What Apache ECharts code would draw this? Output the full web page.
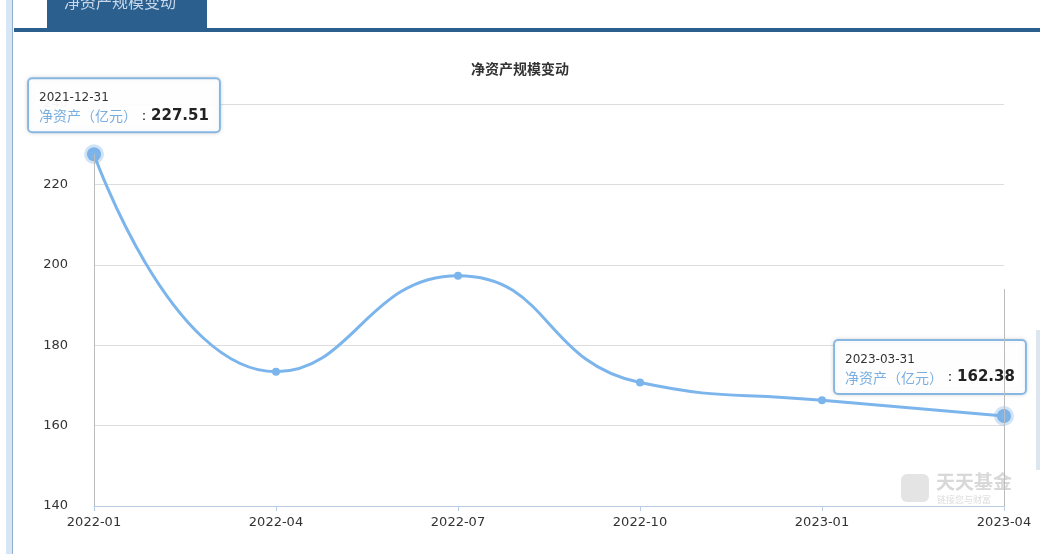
<!DOCTYPE html>
<html><head><meta charset="utf-8">
<script src="https://cdn.jsdelivr.net/npm/echarts@6/dist/echarts.min.js"></script>
<style>html,body{margin:0;padding:0;background:#fff}#c{width:1040px;height:554px}</style>
</head><body><div id="c"></div>
<script>
const categories = ['2022-01','2022-04','2022-07','2022-10','2023-01','2023-04'];
const dates = ['2021-12-31','2022-03-31','2022-06-30','2022-09-30','2022-12-31','2023-03-31'];
const values = [227.51, 173.4, 197.3, 170.7, 166.3, 162.38];
const yTicks = [140, 160, 180, 200, 220, 240];

const ch = echarts.init(document.getElementById('c'));
function tip(i, ox){
  return {show:true, position:'top', offset:[ox,-8],
    formatter: '{d|'+dates[i]+'}\n{n|净资产（亿元）}{c|：}{v|'+values[i].toFixed(2)+'}',
    backgroundColor:'rgba(255,255,255,0.95)', borderColor:'#8ec0ec', borderWidth:2, borderRadius:3,
    padding:[9,10,8,10],
    shadowColor:'rgba(0,0,0,0.15)', shadowBlur:4,
    rich:{d:{fontSize:12,color:'#333',lineHeight:20,fontFamily:'DejaVu Sans',align:'left'},
      n:{fontSize:14,color:'#7aaee0',fontFamily:'Noto Sans CJK SC',align:'left'},
      c:{fontSize:14,color:'#333'},
      v:{fontSize:15,fontWeight:'bold',color:'#222',fontFamily:'DejaVu Sans'}}};
}
const data = values.map((v,i)=>{
  const o={value:v};
  if(i===0){o.label=tip(i,30);o.symbolSize=14;o.itemStyle={borderColor:'rgba(122,174,230,0.35)',borderWidth:6};}
  if(i===5){o.label=tip(i,-74);o.symbolSize=14;o.itemStyle={borderColor:'rgba(122,174,230,0.35)',borderWidth:6};}
  return o;
});
ch.setOption({
  animation:false,
  title:{text:'净资产规模变动',left:'center',top:57,textStyle:{fontSize:14,fontWeight:'bold',color:'#333',fontFamily:'Noto Sans CJK SC'}},
  grid:{left:94,right:36,top:104,bottom:48},
  xAxis:{type:'category',data:categories,boundaryGap:false,
    axisLine:{lineStyle:{color:'#b8cce4'}},axisTick:{show:true,lineStyle:{color:'#b8cce4'}},
    axisLabel:{color:'#333',fontSize:13,margin:10,fontFamily:'DejaVu Sans',showMaxLabel:true}},
  yAxis:{type:'value',min:yTicks[0],max:yTicks[yTicks.length-1],interval:20,
    axisLine:{show:false},axisTick:{show:false},
    axisLabel:{color:'#333',fontSize:13,margin:26,fontFamily:'DejaVu Sans'},
    splitLine:{lineStyle:{color:'#ddd'}}},
  graphic:[
    {type:'rect',shape:{x:6,y:0,width:6,height:554},style:{fill:'#d6e6f5'}},
    {type:'rect',shape:{x:12,y:0,width:1,height:554},style:{fill:'#8fb0d0'}},
    {type:'rect',shape:{x:14,y:28,width:1026,height:4},style:{fill:'#2a5f8e'}},
    {type:'rect',shape:{x:47,y:0,width:160,height:30},style:{fill:'#2a5f8e'}},
    {type:'text',left:64,top:-6,style:{text:'净资产规模变动',fill:'#c8d8ea',font:'16px "Noto Sans CJK SC"'}},
    {type:'rect',shape:{x:1036,y:330,width:4,height:140},style:{fill:'#dde6ef'}},
    {type:'rect',shape:{x:901,y:474,width:28,height:28,r:6},style:{fill:'#e4e4e4'}},
    {type:'text',left:936,top:472,style:{text:'天天基金',fill:'#d8d8d8',font:'bold 19px "Noto Sans CJK SC"'}},
    {type:'text',left:937,top:495,style:{text:'链接您与财富',fill:'#dcdcdc',font:'9px "Noto Sans CJK SC"'}}
  ],
  series:[{type:'line',data:data,smooth:true,symbol:'circle',symbolSize:8,
    lineStyle:{color:'#7cb5ec',width:3},itemStyle:{color:'#7cb5ec'},
    markLine:{silent:true,symbol:'none',label:{show:false},lineStyle:{color:'#bbb',type:'solid',width:1},
      data:[[{coord:[0,values[0]]},{coord:[0,140]}],[{coord:[5,194]},{coord:[5,140]}]]}
  }]
});
</script></body></html>
